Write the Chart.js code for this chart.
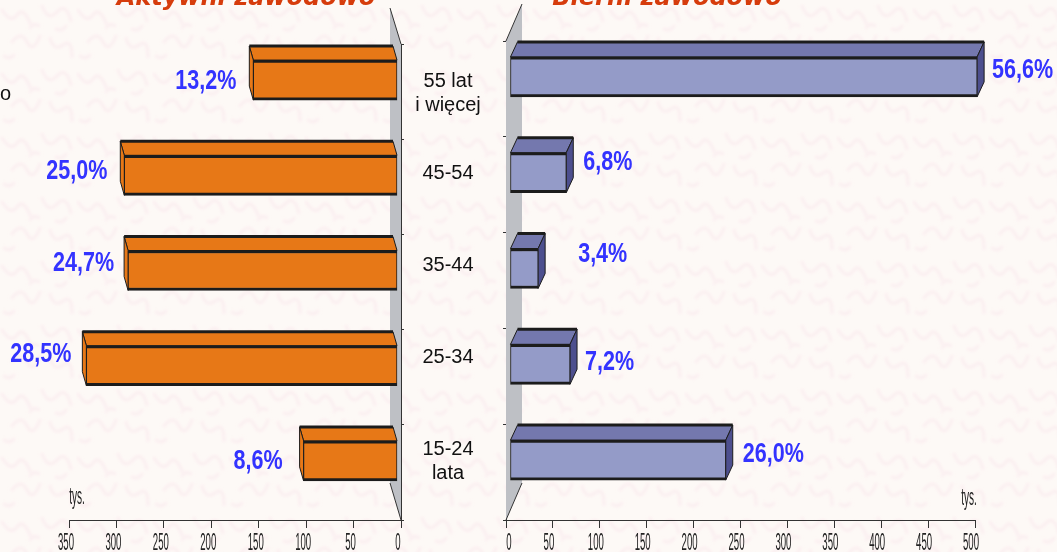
<!DOCTYPE html>
<html>
<head>
<meta charset="utf-8">
<script src="https://cdn.jsdelivr.net/npm/chart.js@4"></script>
<style>
  html, body { margin: 0; height: 100%; overflow: hidden; background-color: #fdf9f6; }
  body {
    background-image: url("data:image/svg+xml,%3Csvg xmlns='http://www.w3.org/2000/svg' width='76' height='64'%3E%3Cfilter id='b'%3E%3CfeGaussianBlur stdDeviation='1.6'/%3E%3C/filter%3E%3Cg filter='url(%23b)' fill='none' stroke='%23fbeef0' stroke-width='3' stroke-linecap='round'%3E%3Cpath d='M2 10q9 14 15 5t13 8M42 6q6 16 15 6t14 9M12 42q9-12 15 0t13-6M50 38q4 14 13 7t9 12M30 28q4-6 9-2M66 26q-4 6-10 3M4 56q6 4 10-1'/%3E%3C/g%3E%3C/svg%3E");
  }
  canvas { position: absolute; top: -30px; }
  #activeChart { left: 0; }
  #passiveChart { left: 277px; }
</style>
</head>
<body>
<canvas id="activeChart" width="492" height="582"></canvas>
<canvas id="passiveChart" width="780" height="582"></canvas>
<script>
// values in thousands, categories top to bottom
var categories = [['55 lat', 'i więcej'], ['45-54'], ['35-44'], ['25-34'], ['15-24', 'lata']];
var activeValues = [152, 288, 284, 328, 99];
var activeShares = ['13,2%', '25,0%', '24,7%', '28,5%', '8,6%'];
var passiveValues = [498, 60, 30, 64, 230];
var passiveShares = ['56,6%', '6,8%', '3,4%', '7,2%', '26,0%'];
var activeTicks = 350;
var passiveTicks = 500;

var ink = '#1c1c1c';

// front face is moved off the axis, depth is where the back edge goes
var bar3d = {
    id: 'bar3d',
    beforeDatasetsDraw: function (chart, args, o) {
        var ctx = chart.ctx, a = chart.chartArea;
        var axisX = o.mirror ? a.right : a.left;
        var wallX = axisX + o.wall.x;
        ctx.save();
        ctx.beginPath();
        ctx.moveTo(axisX, a.top);
        ctx.lineTo(wallX, a.top + o.wall.top);
        ctx.lineTo(wallX, a.bottom + o.wall.bottom);
        ctx.lineTo(axisX, a.bottom);
        ctx.closePath();
        ctx.fillStyle = '#bec0c5';
        ctx.fill();
        ctx.strokeStyle = '#333';
        ctx.lineWidth = 1;
        ctx.beginPath();
        ctx.moveTo(axisX, a.top);
        ctx.lineTo(wallX, a.top + o.wall.top);
        ctx.moveTo(wallX, a.bottom + o.wall.bottom);
        ctx.lineTo(axisX, a.bottom);
        ctx.stroke();
        ctx.restore();
    },
    beforeDatasetDraw: function (chart, args, o) {
        var ctx = chart.ctx;
        ctx.save();
        ctx.translate(o.shift.x, o.shift.y);
        chart.getDatasetMeta(0).data.forEach(function (bar) {
            var top = bar.y - bar.height / 2, bottom = bar.y + bar.height / 2;
            var d = o.depth;
            // top face
            ctx.beginPath();
            ctx.moveTo(bar.base, top);
            ctx.lineTo(bar.base + d.x, top + d.y);
            ctx.lineTo(bar.x + d.x, top + d.y);
            ctx.lineTo(bar.x, top);
            ctx.closePath();
            ctx.fillStyle = o.topColor;
            ctx.fill();
            ctx.strokeStyle = ink;
            ctx.lineWidth = 1;
            ctx.stroke();
            ctx.beginPath();
            ctx.moveTo(bar.base + d.x, top + d.y);
            ctx.lineTo(bar.x + d.x, top + d.y);
            ctx.lineWidth = 3;
            ctx.stroke();
            // end face
            ctx.beginPath();
            ctx.moveTo(bar.x, top);
            ctx.lineTo(bar.x + d.x, top + d.y);
            ctx.lineTo(bar.x + d.x, bottom + d.y);
            ctx.lineTo(bar.x, bottom);
            ctx.closePath();
            ctx.fillStyle = o.sideColor;
            ctx.fill();
            ctx.lineWidth = 1;
            ctx.stroke();
        });
    },
    afterDatasetDraw: function (chart) {
        chart.ctx.restore();
    },
    afterDraw: function (chart, args, o) {
        var ctx = chart.ctx, xs = chart.scales.x;
        ctx.save();

        // title sits half off the page in the original
        ctx.fillStyle = '#d63c0c';
        ctx.textAlign = 'center';
        ctx.textBaseline = 'alphabetic';
        ctx.font = 'italic bold 24px "DejaVu Sans"';
        ctx.fillText(o.title, o.titleX, 35);

        ctx.fillStyle = '#222';
        ctx.textBaseline = 'middle';
        ctx.font = '24px "Liberation Sans"';
        // the axis numbers are very narrow in the original
        xs.ticks.forEach(function (t, i) {
            ctx.save();
            ctx.translate(xs.getPixelForTick(i) + (t.value === 0 ? o.zeroNudge : o.tickNudge), xs.bottom + o.tickGap);
            ctx.scale(0.4, 1);
            ctx.fillText(t.label, 0, 0);
            ctx.restore();
        });
        ctx.save();
        ctx.translate(o.unit.x, o.unit.y);
        ctx.scale(0.42, 1);
        ctx.fillText('tys.', 0, 0);
        ctx.restore();

        // percentages next to the bar ends
        ctx.fillStyle = '#3333ff';
        ctx.font = 'bold 28px "Liberation Sans"';
        chart.getDatasetMeta(0).data.forEach(function (bar, i) {
            var n = o.nudge[i];
            ctx.save();
            ctx.translate(bar.x + o.shift.x + o.depth.x + o.labelGap + n[0], bar.y + o.shift.y + n[1]);
            ctx.scale(0.77, 1);
            ctx.textAlign = o.mirror ? 'right' : 'left';
            ctx.fillText(o.shares[i], 0, 0);
            ctx.restore();
        });

        if (o.mirror) {
            ctx.fillStyle = '#111';
            ctx.textAlign = 'center';
            ctx.font = '20px "Liberation Sans"';
            categories.forEach(function (lines, i) {
                lines.forEach(function (line, k) {
                    ctx.fillText(line, o.catX, o.catTop + i * o.catStep + k * 24);
                });
            });
            ctx.textAlign = 'left';
            ctx.fillText('o', 0, 124);
        }
        ctx.restore();
    }
};

function makeChart(id, values, maxValue, mirror, plugin, area) {
    return new Chart(document.getElementById(id), {
        type: 'bar',
        data: {
            labels: categories,
            datasets: [{
                data: values,
                backgroundColor: mirror ? '#e77817' : '#949bc8',
                borderColor: ink,
                borderWidth: { top: 3, bottom: 3, left: 1, right: 1 },
                borderSkipped: false,
                barThickness: 40,
                clip: false
            }]
        },
        options: {
            indexAxis: 'y',
            responsive: false,
            animation: false,
            layout: { padding: area },
            scales: {
                x: {
                    min: 0,
                    max: maxValue,
                    reverse: mirror,
                    ticks: { display: false, stepSize: 50 },
                    grid: { drawOnChartArea: false, tickLength: 8, color: '#333' },
                    border: { color: '#333' },
                    afterFit: function (s) { s.height = 0; }
                },
                y: {
                    position: mirror ? 'right' : 'left',
                    ticks: { display: false },
                    grid: { drawOnChartArea: false, tickLength: 3, color: '#333' },
                    border: { color: '#333' },
                    afterFit: function (s) { s.width = 0; }
                }
            },
            plugins: {
                legend: { display: false },
                tooltip: { enabled: false },
                bar3d: plugin
            }
        },
        plugins: [bar3d]
    });
}

makeChart('activeChart', activeValues, activeTicks, true, {
    mirror: true,
    title: 'Aktywni zawodowo',
    titleX: 246,
    shift: { x: -3.5, y: -11.5 },
    depth: { x: -4, y: -14 },
    wall: { x: -11, top: -36, bottom: -37 },
    topColor: '#e77817',
    sideColor: '#e77817',
    shares: activeShares,
    labelGap: -13,
    nudge: [[0, 1], [0, -4], [3, -7], [2, -11], [-4, 0]],
    tickGap: 23,
    tickNudge: -3,
    zeroNudge: -3,
    unit: { x: 77, y: 527 },
    catX: 448,
    catTop: 111,
    catStep: 92
}, { left: 69, right: 91, top: 74, bottom: 32 });

makeChart('passiveChart', passiveValues, passiveTicks, false, {
    mirror: false,
    title: 'Bierni zawodowo',
    titleX: 390,
    shift: { x: 4, y: -12 },
    depth: { x: 7, y: -15 },
    wall: { x: 16, top: -37, bottom: -37 },
    topColor: '#7478ae',
    sideColor: '#4d4f8e',
    shares: passiveShares,
    labelGap: 10,
    nudge: [[-2, -7], [0, -10], [23, -14], [-2, -2], [0, -6]],
    tickGap: 23,
    tickNudge: -4,
    zeroNudge: 3,
    unit: { x: 692, y: 528 }
}, { left: 229, right: 82, top: 71, bottom: 32 });
</script>
</body>
</html>
